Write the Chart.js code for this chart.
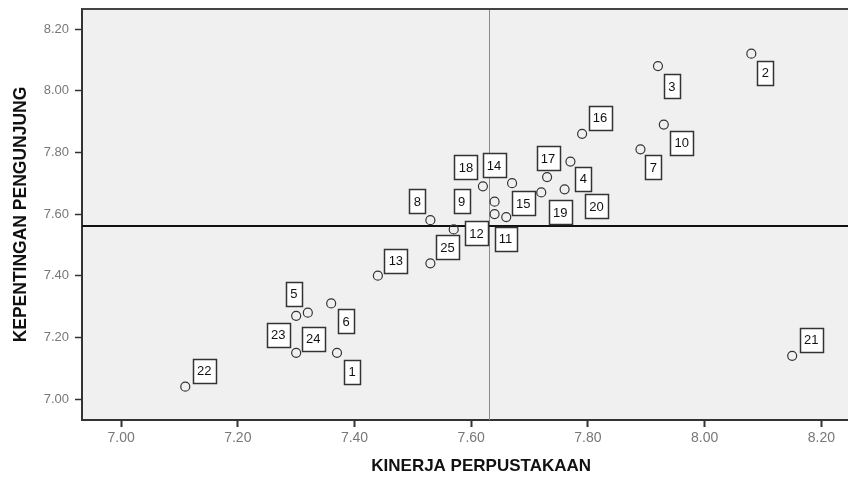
<!DOCTYPE html>
<html lang="id">
<head>
    <meta charset="UTF-8">
    <title>Kinerja vs Kepentingan</title>
    <script src="https://cdn.jsdelivr.net/npm/chart.js"></script>
    <style>
        html, body { margin: 0; padding: 0; background: #fff; overflow: hidden; }
        #wrap { width: 886px; height: 477px; }
    </style>
</head>
<body>
    <div id="wrap"><canvas id="ipaChart" width="886" height="477"></canvas></div>

    <script>
        // atribut 1..25
        const pointLabels = ['1','2','3','4','5','6','7','8','9','10','11','12','13',
                             '14','15','16','17','18','19','20','21','22','23','24','25'];
        const kinerja = [7.37, 8.08, 7.92, 7.77, 7.32, 7.36, 7.89, 7.53, 7.57, 7.93, 7.64, 7.64, 7.44,
                         7.67, 7.66, 7.79, 7.73, 7.62, 7.72, 7.76, 8.15, 7.11, 7.30, 7.30, 7.53];
        const kepentingan = [7.15, 8.12, 8.08, 7.77, 7.28, 7.31, 7.81, 7.58, 7.55, 7.89, 7.64, 7.60, 7.40,
                             7.70, 7.59, 7.86, 7.72, 7.69, 7.67, 7.68, 7.14, 7.04, 7.27, 7.15, 7.44];
        const xTicks = [7.00, 7.20, 7.40, 7.60, 7.80, 8.00, 8.20];
        const yTicks = [7.00, 7.20, 7.40, 7.60, 7.80, 8.00, 8.20];
        const meanKinerja = 7.63;
        const meanKepentingan = 7.56;

        // posisi kotak label relatif ke titik (px)
        const labelOffsets = [[15,19],[14,19],[14,20],[13,17],[-14,-19],[15,18],[13,18],[-13,-19],[8,-28],
                              [18,18],[11,37],[-18,19],[18,-15],[-18,-18],[17,-14],[18,-16],[1,-19],
                              [-17,-19],[19,20],[32,17],[19,-16],[19,-16],[-18,19],[17,-14],[17,-16]];

        const FONT = '"Liberation Sans", Arial, sans-serif';

        const background = {
            id: 'background',
            beforeDraw(chart) {
                const { ctx, chartArea: a } = chart;
                ctx.save();
                ctx.fillStyle = '#fff';
                ctx.fillRect(0, 0, chart.width, chart.height);
                ctx.fillStyle = '#f0f0f0';
                ctx.fillRect(a.left, a.top, a.right - a.left, a.bottom - a.top);
                ctx.restore();
            }
        };

        const refLines = {
            id: 'refLines',
            beforeDatasetsDraw(chart) {
                const { ctx, chartArea: a, scales } = chart;
                const px = Math.round(scales.x.getPixelForValue(meanKinerja)) + 0.5;
                const py = Math.round(scales.y.getPixelForValue(meanKepentingan));
                ctx.save();
                ctx.strokeStyle = '#8a8a8a';
                ctx.lineWidth = 1;
                ctx.beginPath();
                ctx.moveTo(px, a.top);
                ctx.lineTo(px, a.bottom);
                ctx.stroke();
                ctx.strokeStyle = '#111';
                ctx.lineWidth = 2;
                ctx.beginPath();
                ctx.moveTo(a.left, py);
                ctx.lineTo(a.right, py);
                ctx.stroke();
                // garis atas bingkai
                ctx.strokeStyle = '#444';
                ctx.beginPath();
                ctx.moveTo(a.left, a.top);
                ctx.lineTo(a.right, a.top);
                ctx.stroke();
                ctx.restore();
            }
        };

        const caseLabels = {
            id: 'caseLabels',
            afterDatasetsDraw(chart) {
                const { ctx } = chart;
                const meta = chart.getDatasetMeta(0);
                ctx.save();
                ctx.font = '13px ' + FONT;
                ctx.textAlign = 'center';
                ctx.textBaseline = 'middle';
                meta.data.forEach((pt, i) => {
                    const txt = pointLabels[i];
                    const w = Math.round(ctx.measureText(txt).width) + 9;
                    const h = 24;
                    const cx = pt.x + labelOffsets[i][0];
                    const cy = pt.y + labelOffsets[i][1];
                    const x0 = Math.round(cx - w / 2) + 0.5;
                    const y0 = Math.round(cy - h / 2) + 0.5;
                    ctx.fillStyle = '#fff';
                    ctx.fillRect(x0, y0, w, h);
                    ctx.strokeStyle = '#333';
                    ctx.lineWidth = 1.5;
                    ctx.strokeRect(x0, y0, w, h);
                    ctx.fillStyle = '#111';
                    ctx.fillText(txt, cx, cy + 1);
                });
                ctx.restore();
            }
        };

        new Chart(document.getElementById('ipaChart'), {
            type: 'scatter',
            data: {
                datasets: [{
                    data: kinerja.map((v, i) => ({ x: v, y: kepentingan[i] })),
                    pointStyle: 'circle',
                    pointRadius: 4.5,
                    borderColor: '#333',
                    borderWidth: 1.2,
                    backgroundColor: 'rgba(0,0,0,0)'
                }]
            },
            options: {
                responsive: false,
                animation: false,
                layout: { padding: { top: 9, right: 2, left: 0, bottom: 0 } },
                plugins: {
                    legend: { display: false },
                    tooltip: { enabled: false }
                },
                scales: {
                    x: {
                        type: 'linear',
                        min: 6.933,
                        max: 8.301,
                        afterBuildTicks: s => { s.ticks = xTicks.map(v => ({ value: v })); },
                        afterFit: s => { s.height = 57; s.paddingLeft = 0; s.paddingRight = 0; },
                        grid: { drawOnChartArea: false, tickLength: 7, tickColor: '#333', tickWidth: 2 },
                        border: { display: true, color: '#333', width: 2 },
                        ticks: {
                            autoSkip: false,
                            maxRotation: 0,
                            padding: 3,
                            color: '#777',
                            font: { family: FONT, size: 14 },
                            callback: v => Number(v).toFixed(2)
                        },
                        title: {
                            display: true,
                            text: 'KINERJA PERPUSTAKAAN',
                            color: '#111',
                            padding: { top: 0, bottom: 0 },
                            font: { family: FONT, size: 17, weight: 'bold' }
                        }
                    },
                    y: {
                        type: 'linear',
                        min: 6.932,
                        max: 8.265,
                        afterBuildTicks: s => { s.ticks = yTicks.map(v => ({ value: v })); },
                        afterFit: s => { s.width = 82; s.paddingTop = 0; s.paddingBottom = 0; },
                        grid: { drawOnChartArea: false, tickLength: 7, tickColor: '#333', tickWidth: 1.5 },
                        border: { display: true, color: '#333', width: 2 },
                        ticks: {
                            autoSkip: false,
                            padding: 6,
                            color: '#777',
                            font: { family: FONT, size: 13 },
                            callback: v => Number(v).toFixed(2)
                        },
                        title: {
                            display: true,
                            text: 'KEPENTINGAN PENGUNJUNG',
                            color: '#111',
                            padding: { top: 11, bottom: 0 },
                            font: { family: FONT, size: 17.5, weight: 'bold' }
                        }
                    }
                }
            },
            plugins: [background, refLines, caseLabels]
        });
    </script>
</body>
</html>
